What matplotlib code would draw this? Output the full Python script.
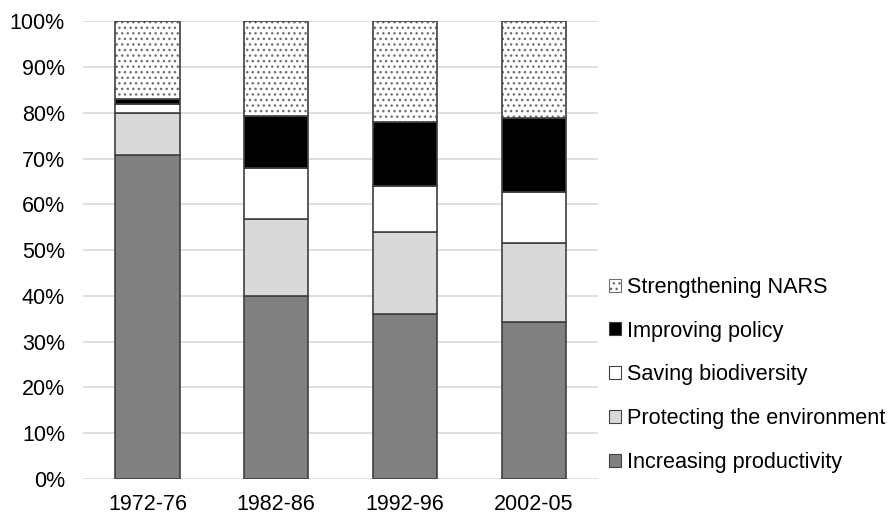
import matplotlib
matplotlib.use("Agg")
import matplotlib.pyplot as plt
from matplotlib.patches import Patch
import numpy as np

plt.rcParams['font.family'] = ['Liberation Sans', 'DejaVu Sans']
plt.rcParams['hatch.linewidth'] = 1.0

categories = ["1972-76", "1982-86", "1992-96", "2002-05"]
series_names = ["Increasing productivity", "Protecting the environment",
                "Saving biodiversity", "Improving policy", "Strengthening NARS"]
increasing_productivity = [70.7, 40.0, 36.0, 34.3]
protecting_environment = [9.2, 16.9, 18.0, 17.2]
saving_biodiversity = [2.0, 11.1, 10.0, 11.1]
improving_policy = [1.1, 11.2, 14.0, 16.3]
strengthening_nars = [17.0, 20.8, 22.0, 21.1]
yticks = [0, 10, 20, 30, 40, 50, 60, 70, 80, 90, 100]

series = [increasing_productivity, protecting_environment, saving_biodiversity,
          improving_policy, strengthening_nars]
colors = ["#808080", "#d9d9d9", "#ffffff", "#000000", "#ffffff"]
edge = "#404040"
dotc = "#707070"

fig = plt.figure(figsize=(8.9, 5.17), dpi=100)
ax = fig.add_axes([0.0933, 0.0735, 0.5787, 0.8855])

x = np.arange(len(categories))
w = 0.5
bottom = np.zeros(len(categories))
handles = []
for i, (name, vals) in enumerate(zip(series_names, series)):
    vals = np.array(vals)
    if i == 4:
        ax.bar(x, vals, w, bottom=bottom, color="white", edgecolor=dotc,
               hatch="...", linewidth=0, zorder=3)
        ax.bar(x, vals, w, bottom=bottom, color="none", edgecolor=edge,
               linewidth=1.2, zorder=4)
        handles.append(Patch(facecolor="white", edgecolor=dotc, hatch="...",
                             linewidth=0.8, label=name))
    else:
        ax.bar(x, vals, w, bottom=bottom, color=colors[i], edgecolor=edge,
               linewidth=1.2, zorder=3)
        handles.append(Patch(facecolor=colors[i], edgecolor=edge, linewidth=0.8,
                             label=name))
    bottom += vals

ax.set_xlim(-0.5, len(categories) - 0.5)
ax.set_ylim(0, 100)
ax.set_yticks(yticks)
ax.set_yticklabels([f"{t}%" for t in yticks])
ax.set_xticks(x)
ax.set_xticklabels(categories)
ax.tick_params(axis='both', length=0, labelsize=15.5, colors="#000000")
ax.tick_params(axis='x', pad=11)
ax.tick_params(axis='y', pad=13)
ax.yaxis.grid(True, color="#d9d9d9", linewidth=1.2, zorder=0)
ax.set_axisbelow(True)
for s in ax.spines.values():
    s.set_visible(False)

leg = fig.legend(handles=handles[::-1], loc="center left",
                 bbox_to_anchor=(0.6748, 0.275), frameon=False, fontsize=15.6,
                 handlelength=0.55, handleheight=0.55, handletextpad=0.25,
                 labelspacing=1.05, borderaxespad=0)

fig.savefig("out.png", dpi=100)
